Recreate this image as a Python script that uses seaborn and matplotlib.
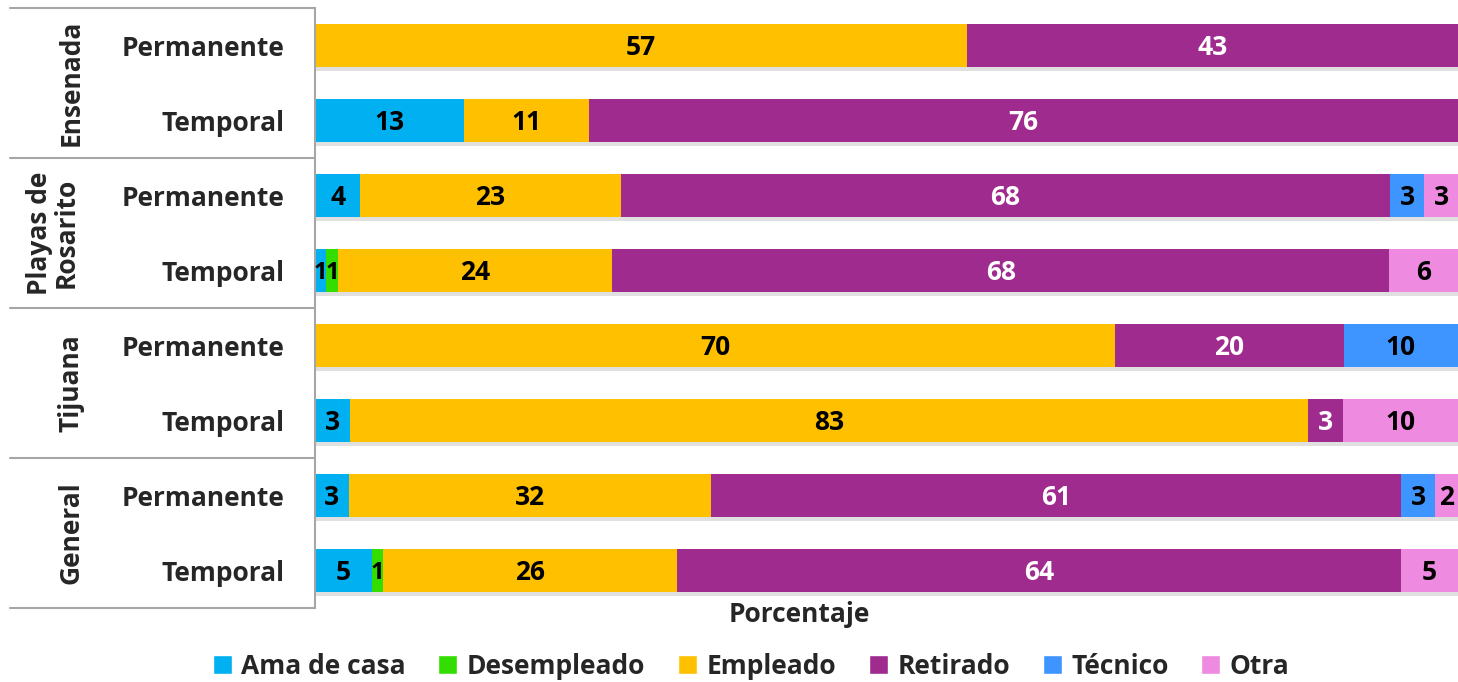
import matplotlib
matplotlib.use('Agg')
import matplotlib.pyplot as plt
import matplotlib.patheffects as pe
import matplotlib.transforms as mtransforms
from matplotlib.patches import Patch
import numpy as np
import pandas as pd
import seaborn as sns

# grupos y filas
ciudades = ['Ensenada', 'Playas de\nRosarito', 'Tijuana', 'General']
tipos = ['Permanente', 'Temporal']
categorias = ['Ama de casa', 'Desempleado', 'Empleado', 'Retirado', 'Técnico', 'Otra']
colores = ['#00B0F0', '#33DD00', '#FFC000', '#A02B8E', '#3F95FF', '#EE8ADF']
color_texto = ['black', 'black', 'black', 'white', 'black', 'black']

# porcentajes por fila (Ens-P, Ens-T, Ros-P, Ros-T, Tij-P, Tij-T, Gen-P, Gen-T)
ama_de_casa = [0, 13, 4, 1, 0, 3, 3, 5]
desempleado = [0, 0, 0, 1, 0, 0, 0, 1]
empleado = [57, 11, 23, 24, 70, 83, 32, 26]
retirado = [43, 76, 68, 68, 20, 3, 61, 64]
tecnico = [0, 0, 3, 0, 10, 0, 3, 0]
otra = [0, 0, 3, 6, 0, 10, 2, 5]

valores = np.array([ama_de_casa, desempleado, empleado, retirado, tecnico, otra], dtype=float).T
pct = valores / valores.sum(axis=1, keepdims=True) * 100  # barra al 100 %
fin = pct.cumsum(axis=1)
inicio = fin - pct

filas = [f'{c}|{t}' for c in ciudades for t in tipos]
df = pd.DataFrame(fin, columns=categorias)
df['fila'] = filas

sns.set_theme(style='white')
plt.rcParams['font.family'] = ['Open Sans', 'DejaVu Sans']
plt.rcParams['font.weight'] = 'bold'
fs = 19

fig = plt.figure(figsize=(14.58, 6.82), dpi=100)
ax = fig.add_axes([315 / 1458, 74 / 682, 1143 / 1458, 600 / 682])

# barras apiladas: se dibuja el acumulado, de la ultima categoria a la primera
for i in reversed(range(len(categorias))):
    n_antes = len(ax.patches)
    sns.barplot(data=df, x=categorias[i], y='fila', order=filas, color=colores[i],
                saturation=1, width=0.57, orient='h', errorbar=None, ax=ax, linewidth=0)
    if i == len(categorias) - 1:
        for p in ax.patches[n_antes:]:
            p.set_path_effects([pe.SimplePatchShadow(offset=(1, -3), shadow_rgbFace='#999999', alpha=0.3),
                                pe.Normal()])

# etiquetas de valores (las muy angostas un poco mas chicas para que no se encimen)
for r in range(len(filas)):
    for i in range(len(categorias)):
        v = valores[r, i]
        if v > 0:
            tam = fs - 2 if pct[r, i] < 1.5 else fs
            ax.text((inicio[r, i] + fin[r, i]) / 2, r + 0.03, f'{int(v)}', ha='center', va='center',
                    fontsize=tam, fontweight='bold', color=color_texto[i])

ax.set_xlim(0, 100)
ax.set_ylim(7.5, -0.5)
ax.set_xticks([])
ax.set_xlabel('')
ax.set_ylabel('')
ax.set_yticks(range(len(filas)))
ax.set_yticklabels(tipos * len(ciudades), fontsize=fs, fontweight='bold')
ax.tick_params(axis='y', length=0, pad=22)
for s in ['top', 'right', 'bottom']:
    ax.spines[s].set_visible(False)
ax.spines['left'].set_color('#A6A6A6')
ax.spines['left'].set_linewidth(1.5)

# tabla de la izquierda
trans = mtransforms.blended_transform_factory(ax.transAxes, ax.transData)
x_izq = (10 - 315) / 1143
for y in [-0.5, 1.5, 3.5, 5.5, 7.5]:
    ax.plot([x_izq, 0], [y, y], transform=trans, clip_on=False, color='#A6A6A6', lw=1.5)
for k, c in enumerate(ciudades):
    xpx = 53 if '\n' in c else 71
    ax.text((xpx - 315) / 1143, 2 * k + 0.5, c, transform=trans, rotation=90,
            ha='center', va='center', fontsize=fs, fontweight='bold', linespacing=1.0)

fig.text(799 / 1458, 1 - 615 / 682, 'Porcentaje', ha='center', va='center',
         fontsize=fs, fontweight='bold')

handles = [Patch(facecolor=c, label=l) for c, l in zip(colores, categorias)]
fig.legend(handles=handles, loc='center', bbox_to_anchor=(751 / 1458, 1 - 666 / 682), ncol=6,
           frameon=False, fontsize=fs, handlelength=0.72, handleheight=0.72,
           handletextpad=0.35, columnspacing=1.25)

fig.savefig('out.png', dpi=100)
